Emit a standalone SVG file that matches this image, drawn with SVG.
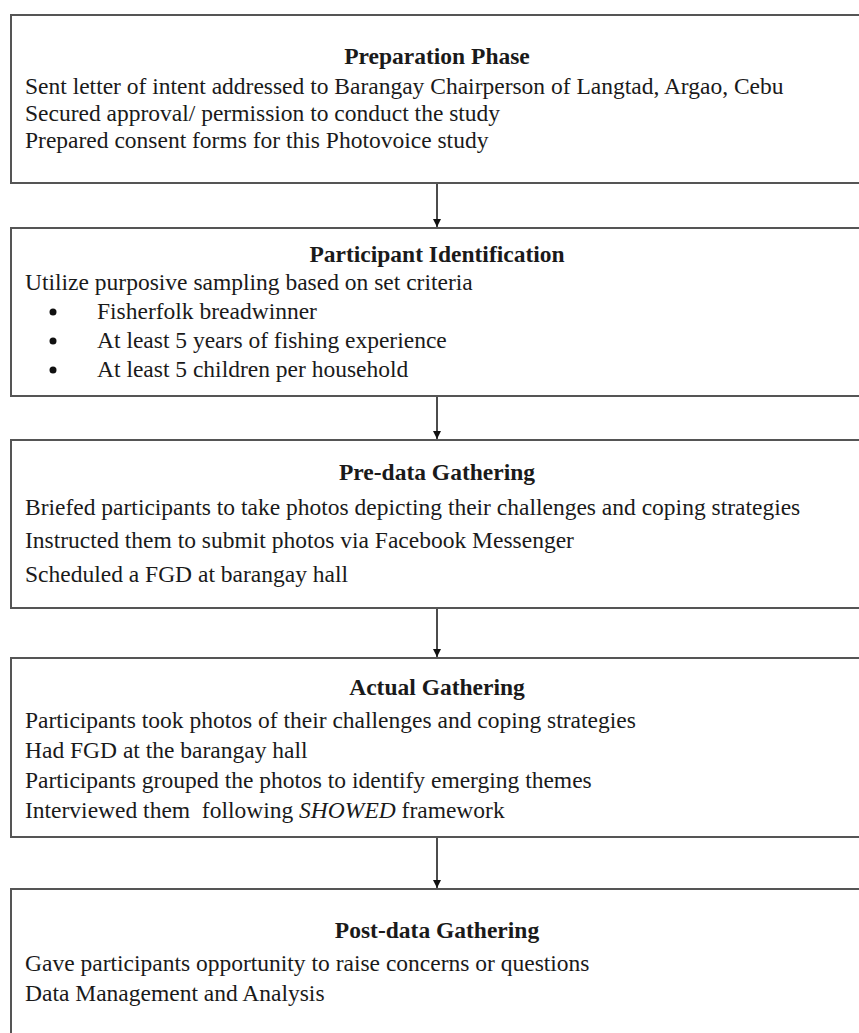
<svg xmlns="http://www.w3.org/2000/svg" width="859" height="1033" viewBox="0 0 859 1033">
<style>
.box{fill:#fff;stroke:#555;stroke-width:2}
.t{font-family:"Liberation Serif","Times New Roman",serif;font-size:23.5px;fill:#1a1a1a}
.h{font-weight:bold;text-anchor:middle}
.c{stroke:#111;stroke-width:1.5;fill:none;marker-end:url(#ah)}
</style>
<defs>
<marker id="ah" viewBox="0 0 10 10" refX="10" refY="5" markerWidth="8" markerHeight="8" markerUnits="userSpaceOnUse" orient="auto">
<path d="M0,0 L10,5 L0,10 z" fill="#111"/>
</marker>
</defs>
<rect width="859" height="1033" fill="#fff"/>
<g id="n1">
<rect class="box" x="11" y="15" width="860" height="168"/>
<text class="t h" x="437" y="64">Preparation Phase</text>
<text class="t" x="25" y="94">Sent letter of intent addressed to Barangay Chairperson of Langtad, Argao, Cebu</text>
<text class="t" x="25" y="121">Secured approval/ permission to conduct the study</text>
<text class="t" x="25" y="148">Prepared consent forms for this Photovoice study</text>
</g>
<g id="n2">
<rect class="box" x="11" y="228" width="860" height="168"/>
<text class="t h" x="437" y="262">Participant Identification</text>
<text class="t" x="25" y="290">Utilize purposive sampling based on set criteria</text>
<circle cx="53" cy="312" r="3.5" fill="#111"/>
<text class="t" x="97" y="319">Fisherfolk breadwinner</text>
<circle cx="53" cy="341" r="3.5" fill="#111"/>
<text class="t" x="97" y="348">At least 5 years of fishing experience</text>
<circle cx="53" cy="370" r="3.5" fill="#111"/>
<text class="t" x="97" y="377">At least 5 children per household</text>
</g>
<g id="n3">
<rect class="box" x="11" y="440" width="860" height="168"/>
<text class="t h" x="437" y="480">Pre-data Gathering</text>
<text class="t" x="25" y="515">Briefed participants to take photos depicting their challenges and coping strategies</text>
<text class="t" x="25" y="548">Instructed them to submit photos via Facebook Messenger</text>
<text class="t" x="25" y="582">Scheduled a FGD at barangay hall</text>
</g>
<g id="n4">
<rect class="box" x="11" y="658" width="860" height="179"/>
<text class="t h" x="437" y="695">Actual Gathering</text>
<text class="t" x="25" y="728">Participants took photos of their challenges and coping strategies</text>
<text class="t" x="25" y="758">Had FGD at the barangay hall</text>
<text class="t" x="25" y="788">Participants grouped the photos to identify emerging themes</text>
<text class="t" x="25" y="818" xml:space="preserve" style="white-space:pre">Interviewed them  following <tspan font-style="italic">SHOWED</tspan> framework</text>
</g>
<g id="n5">
<rect class="box" x="11" y="889" width="860" height="160"/>
<text class="t h" x="437" y="938">Post-data Gathering</text>
<text class="t" x="25" y="971">Gave participants opportunity to raise concerns or questions</text>
<text class="t" x="25" y="1001">Data Management and Analysis</text>
</g>
<g id="connectors">
<line class="c" x1="437" y1="184" x2="437" y2="227"/>
<line class="c" x1="437" y1="397" x2="437" y2="439"/>
<line class="c" x1="437" y1="609" x2="437" y2="657"/>
<line class="c" x1="437" y1="838" x2="437" y2="888"/>
</g>
</svg>
